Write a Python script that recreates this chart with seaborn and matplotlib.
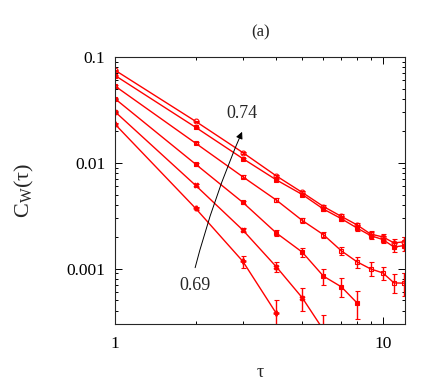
import numpy as np
import pandas as pd
import seaborn as sns
import matplotlib
matplotlib.use("Agg")
import matplotlib.pyplot as plt
from matplotlib.ticker import FixedLocator, FixedFormatter, LogLocator, NullFormatter

# correlation C_W(tau) for six parameter values (0.69 bottom ... 0.74 top)
tau = [1, 2, 3, 4, 5, 6, 7, 8, 9, 10, 11, 12]
labels = ["0.74", "0.73", "0.72", "0.71", "0.70", "0.69"]
c074 = [0.0748, 0.0246, 0.01247, 0.00751, 0.00524, 0.00386, 0.00311, 0.00259, 0.00212, 0.00199, 0.00175, 0.00179]
c073 = [0.0667, 0.0216, 0.01094, 0.00689, 0.00501, 0.00365, 0.00296, 0.00242, 0.00205, 0.00188, 0.00160, 0.00165]
c072 = [0.0530, 0.01528, 0.00736, 0.00444, 0.00285, 0.00209, 0.00147, 0.00116, 0.000993, 0.000910, 0.000733, 0.000728]
c071 = [0.0402, 0.00968, 0.00422, 0.00217, 0.00143, 0.000848, 0.000672, 0.000475]
c070 = [0.0303, 0.00610, 0.00231, 0.00104, 0.000530, 0.000263]
c069 = [0.0231, 0.00370, 0.00117, 0.000377]
# relative error bars
e074 = [0.01, 0.015, 0.02, 0.03, 0.03, 0.04, 0.05, 0.05, 0.06, 0.07, 0.09, 0.11]
e073 = [0.01, 0.015, 0.02, 0.03, 0.03, 0.04, 0.05, 0.06, 0.07, 0.08, 0.10, 0.12]
e072 = [0.015, 0.02, 0.03, 0.04, 0.05, 0.06, 0.09, 0.12, 0.15, 0.15, 0.20, 0.25]
e071 = [0.02, 0.03, 0.04, 0.06, 0.10, 0.17, 0.20, 0.30]
e070 = [0.02, 0.03, 0.05, 0.11, 0.25, 0.40]
e069 = [0.03, 0.04, 0.13, 0.35]

series = [c074, c073, c072, c071, c070, c069]
errors = [e074, e073, e072, e071, e070, e069]
markers = ["o", "s", "s", "s", "X", "P"]
filled = [False, True, False, True, True, True]

sns.set_style("ticks")
plt.rcParams["font.family"] = ["Liberation Serif", "DejaVu Serif"]
plt.rcParams["mathtext.fontset"] = "custom"
plt.rcParams["mathtext.rm"] = "Liberation Serif"
plt.rcParams["mathtext.it"] = "Liberation Serif"

rows = []
for lab, ys in zip(labels, series):
    for t, y in zip(tau, ys):
        rows.append({"tau": t, "C": y, "g": lab})
df = pd.DataFrame(rows)

fig = plt.figure(figsize=(4.36, 3.82), dpi=100)
ax = fig.add_axes([0.264, 0.152, 0.665, 0.699])

red = "#ff0000"
sns.lineplot(data=df, x="tau", y="C", hue="g", palette=[red] * 6, legend=False,
             ax=ax, linewidth=1.0, estimator=None, sort=False)

for ys, es, m, f in zip(series, errors, markers, filled):
    t = tau[:len(ys)]
    yerr = np.array(ys) * np.array(es)
    ax.errorbar(t, ys, yerr=yerr, fmt="none", ecolor=red, elinewidth=1.0,
                capsize=1.8, capthick=0.8)
    ax.plot(t, ys, linestyle="none", marker=m, markersize=3.5,
            markeredgecolor=red, markerfacecolor=red if f else "none",
            markeredgewidth=0.8)

ax.set_xscale("log")
ax.set_yscale("log")
ax.set_xlim(1, 12.1)
ax.set_ylim(0.0003, 0.1)

ax.xaxis.set_major_locator(FixedLocator([1, 10]))
ax.xaxis.set_major_formatter(FixedFormatter(["1", "10"]))
ax.xaxis.set_minor_locator(LogLocator(base=10, subs=np.arange(2, 10)))
ax.xaxis.set_minor_formatter(NullFormatter())
ax.yaxis.set_major_locator(FixedLocator([0.001, 0.01, 0.1]))
ax.yaxis.set_major_formatter(FixedFormatter(["0.001", "0.01", "0.1"]))
ax.yaxis.set_minor_locator(LogLocator(base=10, subs=np.arange(2, 10)))
ax.yaxis.set_minor_formatter(NullFormatter())

ax.tick_params(which="both", direction="in", top=True, right=True, labelsize=12.5,
               width=0.7, colors="black")
ax.tick_params(which="major", length=5, pad=7)
ax.tick_params(axis="x", which="major", pad=9)
ax.tick_params(which="minor", length=2.5)
for s in ax.spines.values():
    s.set_linewidth(0.8)

ax.set_xlabel("τ", fontsize=13, labelpad=8)
ax.set_ylabel("C$_{\\rm W}$(τ)", fontsize=16, labelpad=22)
ax.set_title("(a)", fontsize=12, pad=15)

ax.annotate("", xy=(2.98, 0.0196), xytext=(1.99, 0.00102),
            arrowprops=dict(arrowstyle="-|>", color="black", lw=0.7,
                            mutation_scale=10, connectionstyle="arc3,rad=-0.04",
                            shrinkA=0, shrinkB=0))
ax.text(2.98, 0.0294, "0.74", fontsize=13, ha="center", va="center")
ax.text(1.99, 0.000687, "0.69", fontsize=13, ha="center", va="center")

fig.savefig("out.png", dpi=100)
